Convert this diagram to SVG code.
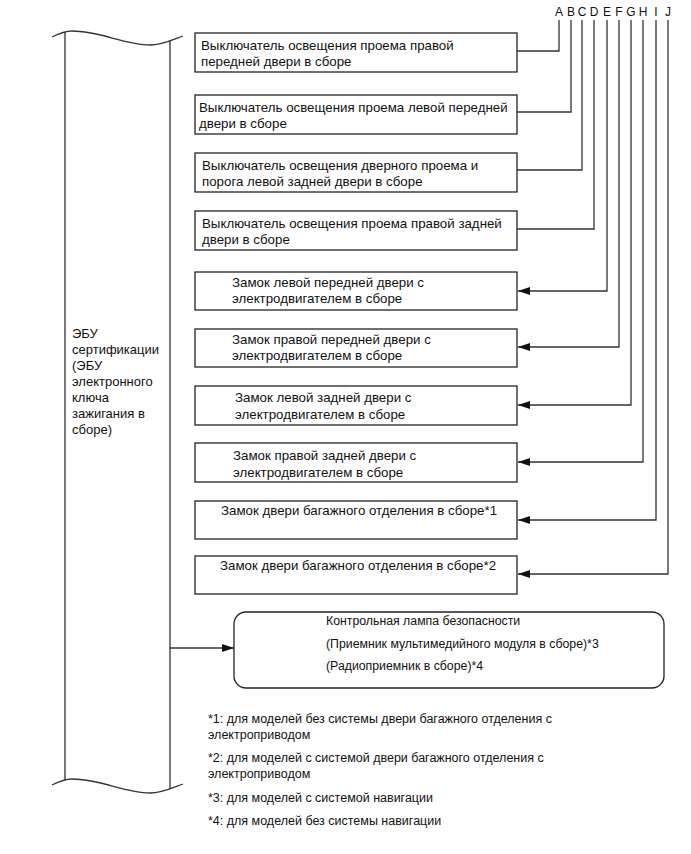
<svg xmlns="http://www.w3.org/2000/svg" width="691" height="854" viewBox="0 0 691 854">
<style>
text{font-family:"Liberation Sans",Arial,sans-serif;font-size:12.5px;fill:#111}
.bt{font-size:13.3px}
.et{font-size:13px}
.lt{font-size:12.3px}
.box{fill:#fff;stroke:#222;stroke-width:1.3}
.ln{fill:none;stroke:#333;stroke-width:1.3}
.lbl{font-size:12px}
</style>
<defs>
<marker id="ah" viewBox="0 0 12 8" refX="12" refY="4" markerWidth="12" markerHeight="8" markerUnits="userSpaceOnUse" orient="auto">
<path d="M0,0 L12,4 L0,8 Z" fill="#111"/>
</marker>
</defs>
<rect width="691" height="854" fill="#fff"/>

<g id="ecu">
<path class="ln" d="M52,37 C58,34 64,31 72,31 C100,31 125,45 150,45 C162,45 172,40 183,36"/>
<path class="ln" d="M52,785 C58,782 64,779 72,779 C100,779 125,793 150,793 C162,793 172,788 183,784"/>
<line class="ln" x1="65" y1="32" x2="65" y2="780"/>
<line class="ln" x1="170" y1="41" x2="170" y2="789"/>
<text class="et" x="72" y="338">ЭБУ</text>
<text class="et" x="72" y="354">сертификации</text>
<text class="et" x="72" y="370">(ЭБУ</text>
<text class="et" x="72" y="386">электронного</text>
<text class="et" x="72" y="402">ключа</text>
<text class="et" x="72" y="418">зажигания в</text>
<text class="et" x="72" y="434">сборе)</text>
</g>

<g id="sw1"><rect class="box" x="195" y="33" width="322" height="39"/>
<text class="bt" x="201" y="49.5">Выключатель освещения проема правой</text>
<text class="bt" x="201" y="65.5">передней двери в сборе</text></g>
<g id="sw2"><rect class="box" x="195" y="95" width="322" height="39"/>
<text class="bt" x="199" y="111.5">Выключатель освещения проема левой передней</text>
<text class="bt" x="199" y="127.5">двери в сборе</text></g>
<g id="sw3"><rect class="box" x="195" y="153" width="322" height="39"/>
<text class="bt" x="202" y="169.5">Выключатель освещения дверного проема и</text>
<text class="bt" x="202" y="185.5">порога левой задней двери в сборе</text></g>
<g id="sw4"><rect class="box" x="195" y="211" width="322" height="39"/>
<text class="bt" x="202" y="227.5">Выключатель освещения проема правой задней</text>
<text class="bt" x="202" y="243.5">двери в сборе</text></g>

<g id="lk1"><rect class="box" x="195" y="272" width="322" height="38"/>
<text class="bt" x="232" y="287">Замок левой передней двери с</text>
<text class="bt" x="232" y="303">электродвигателем в сборе</text></g>
<g id="lk2"><rect class="box" x="195" y="329" width="322" height="38"/>
<text class="bt" x="232" y="344">Замок правой передней двери с</text>
<text class="bt" x="232" y="360">электродвигателем в сборе</text></g>
<g id="lk3"><rect class="box" x="195" y="386" width="322" height="39"/>
<text class="bt" x="235" y="402">Замок левой задней двери с</text>
<text class="bt" x="235" y="418.5">электродвигателем в сборе</text></g>
<g id="lk4"><rect class="box" x="195" y="443" width="322" height="39"/>
<text class="bt" x="233" y="460">Замок правой задней двери с</text>
<text class="bt" x="233" y="476.5">электродвигателем в сборе</text></g>
<g id="lk5"><rect class="box" x="195" y="501" width="322" height="38"/>
<text class="bt" x="221" y="515">Замок двери багажного отделения в сборе*1</text></g>
<g id="lk6"><rect class="box" x="195" y="556" width="322" height="38"/>
<text class="bt" x="220" y="570">Замок двери багажного отделения в сборе*2</text></g>

<g id="lamp"><rect class="box" x="234" y="612" width="430" height="76" rx="12" ry="12"/>
<text class="lt" x="326" y="624.5">Контрольная лампа безопасности</text>
<text class="lt" x="326" y="647.5">(Приемник мультимедийного модуля в сборе)*3</text>
<text class="lt" x="326" y="669.5">(Радиоприемник в сборе)*4</text></g>

<g id="letters">
<text class="lbl" x="559" y="16" text-anchor="middle">A</text>
<text class="lbl" x="571" y="16" text-anchor="middle">B</text>
<text class="lbl" x="582" y="16" text-anchor="middle">C</text>
<text class="lbl" x="594" y="16" text-anchor="middle">D</text>
<text class="lbl" x="607" y="16" text-anchor="middle">E</text>
<text class="lbl" x="619" y="16" text-anchor="middle">F</text>
<text class="lbl" x="631" y="16" text-anchor="middle">G</text>
<text class="lbl" x="643" y="16" text-anchor="middle">H</text>
<text class="lbl" x="656" y="16" text-anchor="middle">I</text>
<text class="lbl" x="668" y="16" text-anchor="middle">J</text>
</g>

<g id="connectors">
<polyline class="ln" points="517,51 559,51 559,20"/>
<polyline class="ln" points="517,112 571,112 571,20"/>
<polyline class="ln" points="517,170 582,170 582,20"/>
<polyline class="ln" points="517,229 594,229 594,20"/>
<polyline class="ln" points="607,20 607,291 518,291" marker-end="url(#ah)"/>
<polyline class="ln" points="619,20 619,347 518,347" marker-end="url(#ah)"/>
<polyline class="ln" points="631,20 631,405 518,405" marker-end="url(#ah)"/>
<polyline class="ln" points="643,20 643,462 518,462" marker-end="url(#ah)"/>
<polyline class="ln" points="656,20 656,520 518,520" marker-end="url(#ah)"/>
<polyline class="ln" points="668,20 668,574 518,574" marker-end="url(#ah)"/>
<line class="ln" x1="170" y1="648" x2="234" y2="648" marker-end="url(#ah)"/>
</g>

<g id="notes">
<text x="208" y="722.5">*1: для моделей без системы двери багажного отделения с</text>
<text x="208" y="738.5">электроприводом</text>
<text x="208" y="761.5">*2: для моделей с системой двери багажного отделения с</text>
<text x="208" y="777.5">электроприводом</text>
<text x="208" y="801.5">*3: для моделей с системой навигации</text>
<text x="208" y="824.5">*4: для моделей без системы навигации</text>
</g>
</svg>
